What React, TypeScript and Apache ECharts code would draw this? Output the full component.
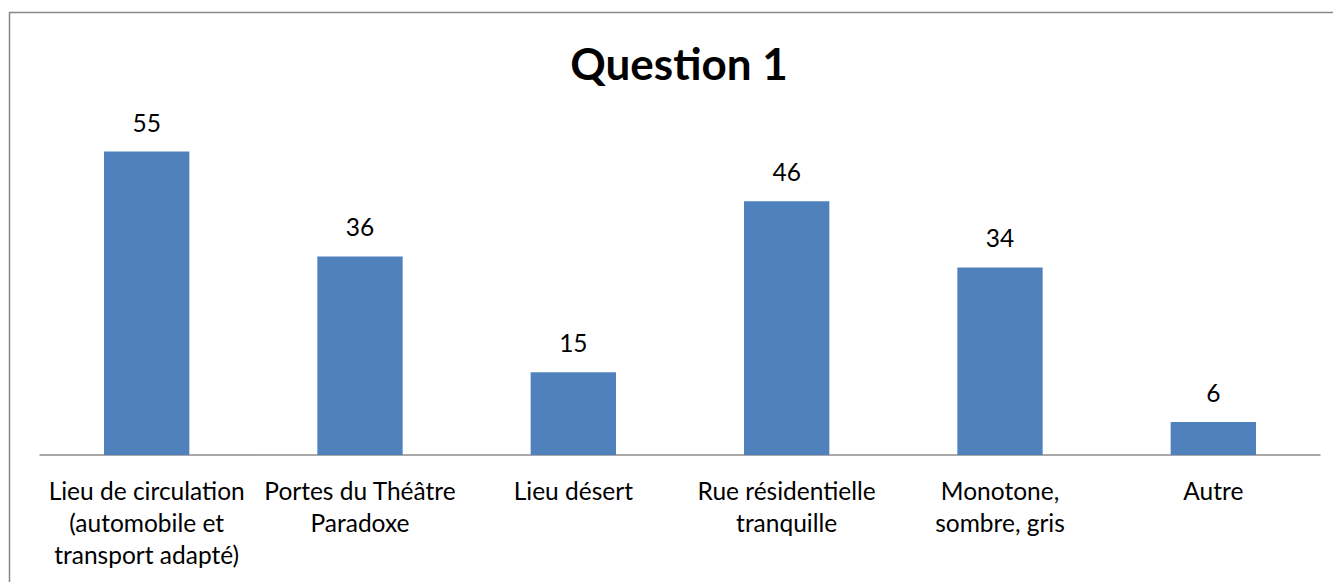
import React, { useEffect, useRef } from "react";
import * as echarts from "echarts";

const categories = [
  "Lieu de circulation\n(automobile et\ntransport adapté)",
  "Portes du Théâtre\nParadoxe",
  "Lieu désert",
  "Rue résidentielle\ntranquille",
  "Monotone,\nsombre, gris",
  "Autre",
];
const values = [55, 36, 15, 46, 34, 6];
const titleText = "Question 1";

export default function App() {
  const ref = useRef<HTMLDivElement>(null);
  useEffect(() => {
    if (!ref.current) return;
    const chart = echarts.init(ref.current, null, { renderer: "svg" });
    chart.setOption({
      animation: false,
      backgroundColor: "#ffffff",
      title: {
        text: titleText,
        left: 674,
        top: 36,
        textAlign: "center",
        textStyle: { fontFamily: "Lato", fontWeight: "bold", fontSize: 44, color: "#000" },
      },
      graphic: [
        {
          type: "rect",
          shape: { x: 9.5, y: 12.5, width: 1400, height: 700 },
          style: { fill: "none", stroke: "#868686", lineWidth: 1.5 },
          silent: true,
        },
      ],
      grid: { left: 40, right: 13, top: 124, bottom: 127 },
      xAxis: {
        type: "category",
        data: categories,
        axisLine: { show: true, lineStyle: { color: "#8c8c8c", width: 1.5 } },
        axisTick: { show: false },
        axisLabel: {
          interval: 0,
          margin: 19,
          color: "#000",
          fontFamily: "Lato",
          fontSize: 24.5,
          lineHeight: 32,
        },
      },
      yAxis: {
        type: "value",
        min: 0,
        max: 60,
        show: false,
        splitLine: { show: false },
      },
      series: [
        {
          type: "bar",
          data: values,
          barWidth: "40%",
          itemStyle: { color: "#4F81BD" },
          label: {
            show: true,
            position: "top",
            distance: 17,
            color: "#000",
            fontFamily: "Lato",
            fontSize: 24.5,
          },
        },
      ],
    });
    return () => chart.dispose();
  }, []);
  return (
    <div
      ref={ref}
      style={{ position: "absolute", left: 0, top: 0, width: 1333, height: 582 }}
    />
  );
}
